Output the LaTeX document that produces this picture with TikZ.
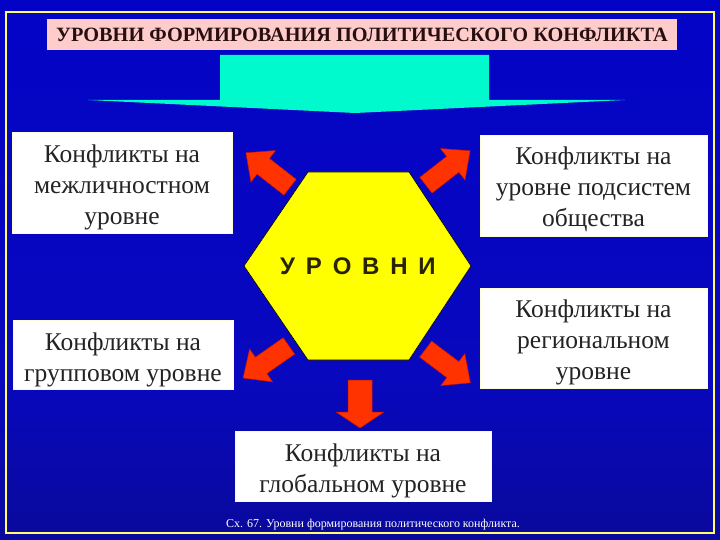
\documentclass[tikz,border=0pt]{standalone}
\usepackage{fontspec}
\setmainfont{Liberation Serif}
\newfontfamily\hexfont{Liberation Sans}
\definecolor{bgtop}{RGB}{0,0,205}
\definecolor{bgmid}{RGB}{8,8,190}
\definecolor{bgbot}{RGB}{12,12,100}
\definecolor{framey}{RGB}{255,255,110}
\definecolor{titlepink}{RGB}{255,204,204}
\definecolor{titletext}{RGB}{40,15,15}
\definecolor{cyanarrow}{RGB}{0,250,205}
\definecolor{hexyellow}{RGB}{255,255,0}
\definecolor{redarrow}{RGB}{255,51,0}
\definecolor{rededge}{RGB}{200,20,0}
\definecolor{boxtext}{RGB}{35,35,35}
\definecolor{hextext}{RGB}{40,35,0}
\pgfdeclareverticalshading{bgshade}{100bp}{color(0bp)=(bgbot); color(40bp)=(bgmid); color(100bp)=(bgtop); color(100bp)=(bgtop)}
\newcommand{\diagblock}[3]{%
  \begin{scope}[shift={(#1,#2)},rotate=#3]
    \filldraw[redblock] (-28,-10) -- (6,-10) -- (6,-20) -- (28,0) -- (6,20) -- (6,10) -- (-28,10) -- cycle;
  \end{scope}}
\begin{document}
\begin{tikzpicture}[x=1pt,y=-1pt,
  levelbox/.style={fill=white, draw=white!85!yellow, line width=0.8pt, inner sep=0pt},
  boxtxt/.style={text=boxtext, font=\fontsize{25.5}{31}\selectfont, align=center, inner sep=0pt},
  redblock/.style={fill=redarrow, draw=rededge, line width=0.5pt, line join=miter}]
\useasboundingbox (0,0) rectangle (720,540);
% background
\fill[shading=bgshade] (0,0) rectangle (720,540);
\draw[framey, line width=1.6pt] (6,12) rectangle (714,533);
% title
\node[fill=titlepink, minimum width=630pt, minimum height=31pt, inner sep=0pt,
      text=titletext, font=\bfseries\fontsize{20.3}{22}\selectfont] (title) at (362,35)
  {УРОВНИ ФОРМИРОВАНИЯ ПОЛИТИЧЕСКОГО КОНФЛИКТА};
% cyan down arrow
\fill[cyanarrow] (220,55) -- (489,55) -- (489,100) -- (625,100) -- (355,113) -- (88,100) -- (220,100) -- cycle;
% hexagon
\filldraw[fill=hexyellow, draw=black, line width=0.6pt]
  (308,172) -- (409,172) -- (471,266) -- (409,360) -- (308,360) -- (244,266) -- cycle;
\node[text=hextext, font=\hexfont\bfseries\fontsize{24}{26}\selectfont, inner sep=0pt] (hex) at (358,266)
  {У\hspace{0.45em}Р\hspace{0.45em}О\hspace{0.45em}В\hspace{0.45em}Н\hspace{0.45em}И};
% boxes
\node[levelbox, minimum width=220pt, minimum height=101pt] (inter) at (122,182.5) {};
\node[boxtxt] (intertext) at ([yshift=-4.5pt]inter.center) {Конфликты на\\межличностном\\уровне};
\node[levelbox, minimum width=227pt, minimum height=101pt] (subsys) at (593.5,185.5) {};
\node[boxtxt] (subsystext) at ([yshift=-4pt]subsys.center) {Конфликты на\\уровне подсистем\\общества};
\node[levelbox, minimum width=227pt, minimum height=100pt] (region) at (593.5,338) {};
\node[boxtxt] (regiontext) at ([yshift=-4pt]region.center) {Конфликты на\\региональном\\уровне};
\node[levelbox, minimum width=220pt, minimum height=69pt] (group) at (123,355) {};
\node[boxtxt] (grouptext) at ([yshift=-4.5pt]group.center) {Конфликты на\\групповом уровне};
\node[levelbox, minimum width=256pt, minimum height=70pt] (global) at (363,466) {};
\node[boxtxt] (globaltext) at ([yshift=-4.5pt]global.center) {Конфликты на\\глобальном уровне};
% red arrows
\diagblock{268}{170}{142}
\diagblock{448}{168}{38}
\diagblock{266}{362}{215}
\diagblock{448}{366}{323}
\filldraw[redblock] (348,380) -- (372,380) -- (372,412) -- (384,412) -- (360,428) -- (336,412) -- (348,412) -- cycle;
% caption
\node[text=white, font=\fontsize{12}{13}\selectfont, inner sep=0pt] (caption) at (373,525)
  {Сх. 67. Уровни формирования политического конфликта.};
\end{tikzpicture}
\end{document}
